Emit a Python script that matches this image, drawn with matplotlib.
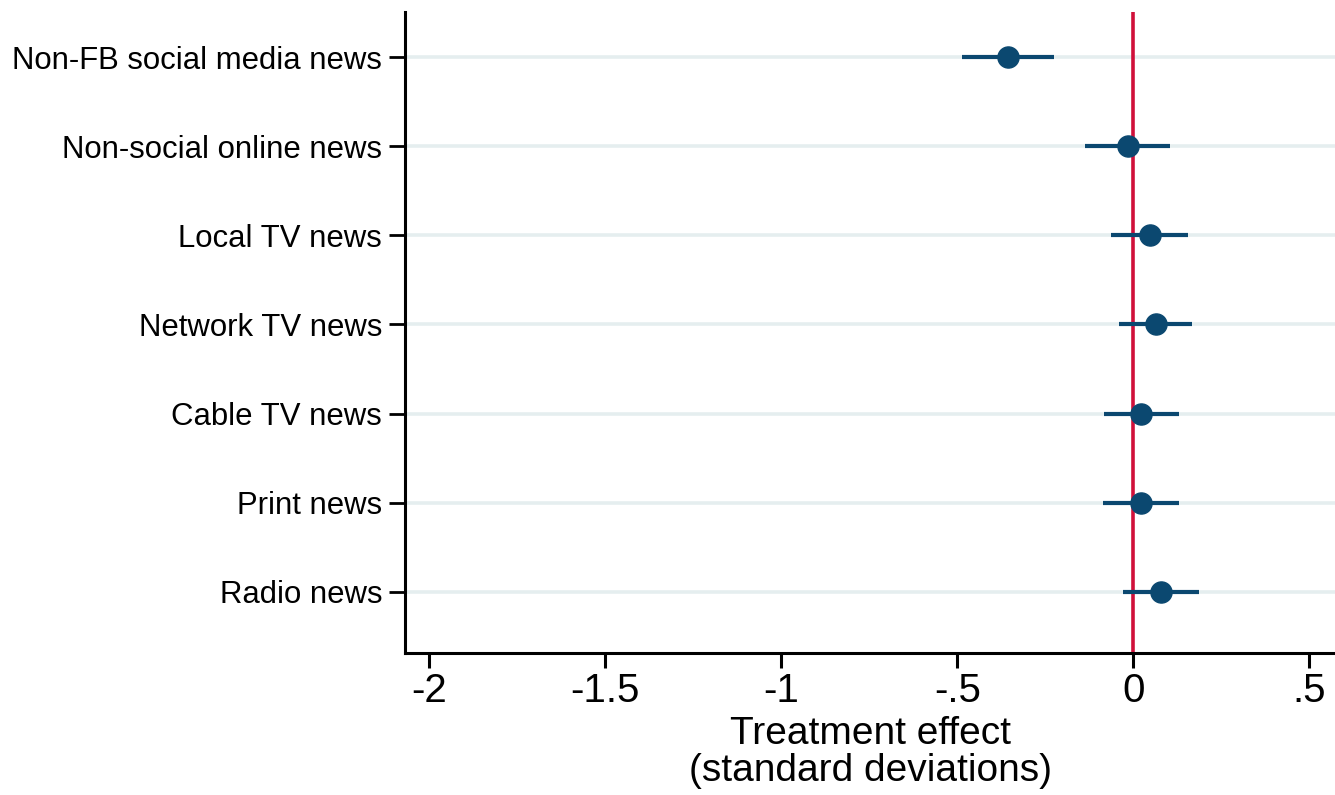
import matplotlib
matplotlib.use("Agg")
import matplotlib.pyplot as plt

plt.rcParams['font.family'] = ['Liberation Sans', 'DejaVu Sans']

# Treatment effects and 95% CIs, top row first
outcomes = ["Non-FB social media news", "Non-social online news", "Local TV news",
            "Network TV news", "Cable TV news", "Print news", "Radio news"]
effect = [-0.356, -0.014, 0.047, 0.066, 0.022, 0.021, 0.078]
ci_low = [-0.485, -0.136, -0.063, -0.040, -0.084, -0.087, -0.029]
ci_high = [-0.224, 0.106, 0.155, 0.167, 0.129, 0.129, 0.186]

xticks = [-2, -1.5, -1, -0.5, 0, 0.5]
xticklabels = ["-2", "-1.5", "-1", "-.5", "0", ".5"]

NAVY = '#0b4870'
RED = '#d0103a'
GRID = '#e5eeef'

fig = plt.figure(figsize=(13.35, 7.95), dpi=100)
ax = fig.add_axes([0.3034, 0.1786, 0.6966, 0.8064])

ypos = list(range(len(outcomes)))

for y in ypos:
    ax.axhline(y, color=GRID, lw=2.6, zorder=0)

ax.axvline(0, color=RED, lw=2.6, zorder=2)

ax.hlines(ypos, ci_low, ci_high, color=NAVY, lw=3.0, zorder=3)
ax.plot(effect, ypos, 'o', color=NAVY, ms=15.2, zorder=4)

ax.set_xlim(-2.069, 0.5735)
ax.set_ylim(6.685, -0.506)

ax.set_yticks(ypos)
ax.set_yticklabels(outcomes, fontsize=22.4)
ax.set_xticks(xticks)
ax.set_xticklabels(xticklabels, fontsize=29)

ax.tick_params(axis='y', length=11.5, width=2, pad=5)
ax.tick_params(axis='x', length=11, width=2.2, pad=3)

for s in ['top', 'right']:
    ax.spines[s].set_visible(False)
for s in ['left', 'bottom']:
    ax.spines[s].set_linewidth(2.2)

ax.set_xlabel("Treatment effect\n(standard deviations)", fontsize=28, linespacing=1.05, labelpad=4)

fig.savefig("out.png", dpi=100)
